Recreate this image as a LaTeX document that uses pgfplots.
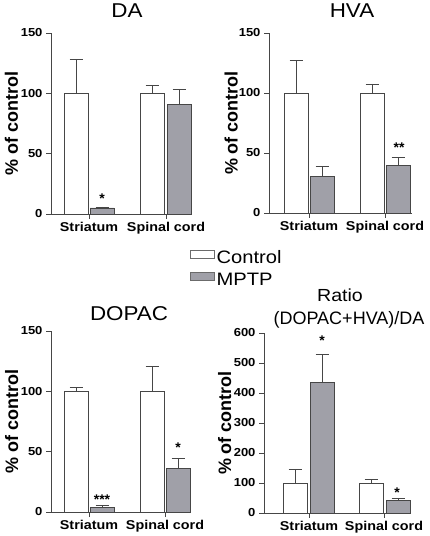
\documentclass[border=0pt]{standalone}
\usepackage{fontspec}
\setmainfont{Liberation Sans}
\newfontfamily\wide[FakeStretch=1.12]{Liberation Sans}
\usepackage{pgfplots}
\usepackage{pgfplotstable}
\pgfplotsset{compat=1.18}
\definecolor{mptp}{RGB}{160,160,168}
\definecolor{ax}{RGB}{70,70,70}

% DA
\pgfplotstableread{
x y e
25 100 28.2
101 100 6.6
}\DActrl
\pgfplotstableread{
x y e
51 5.0 0.8
128 90.9 12.4
}\DAmptp
% HVA
\pgfplotstableread{
x y e
27 100 27.2
103 100 7.5
}\HVActrl
\pgfplotstableread{
x y e
53 30.5 8.1
129 39.4 7.0
}\HVAmptp
% DOPAC
\pgfplotstableread{
x y e
25 100 3.4
101 100 20.5
}\DOPACctrl
\pgfplotstableread{
x y e
51 4.1 1.0
127 36.4 8.0
}\DOPACmptp
% Ratio
\pgfplotstableread{
x y e
31 100 46
107 100 11.6
}\RATctrl
\pgfplotstableread{
x y e
58 434 96
134 42.5 4.5
}\RATmptp

\pgfplotsset{
  panel/.style={
    scale only axis, anchor=south west, clip=false,
    axis x line=bottom, axis y line=left,
    axis line style={ax, line width=0.8pt, -},
    every tick/.style={ax, line width=0.8pt},
    tick align=outside, major tick length=5pt,
    xmin=0, ymin=0,
    /pgf/number format/assume math mode=true,
    scaled y ticks=false,
    yticklabel style={font=\wide\fontsize{11.6}{13}\selectfont\bfseries},
    xticklabel style={font=\wide\fontsize{12.8}{14}\selectfont\bfseries},
    ylabel={\% of control},
    ylabel style={font=\fontsize{18}{20}\selectfont\bfseries, anchor=center},
    xticklabels={Striatum, Spinal cord},
  },
  errs/.style={
    error bars/y dir=plus, error bars/y explicit,
    error bars/error bar style={line width=0.8pt, ax},
    error bars/error mark options={rotate=90, line width=0.8pt, mark size=6.5pt, ax}},
  ctrl/.style={ybar, bar width=24, bar shift=0pt, fill=white, draw=ax, line width=0.8pt, errs},
  mp/.style={ybar, bar width=24, bar shift=0pt, fill=mptp, draw=ax, line width=0.8pt, errs},
}
\newcommand{\sigmark}[2]{\node[font=\fontsize{14}{16}\selectfont\bfseries, anchor=base] at (axis cs:#1) {#2};}

\begin{document}
\begin{tikzpicture}
\useasboundingbox (0,0) rectangle (430pt,536pt);

% titles
\node[font=\wide\fontsize{20}{22}\selectfont, anchor=base] at (127pt,518pt) {DA};
\node[font=\wide\fontsize{20}{22}\selectfont, anchor=base] at (352pt,518pt) {HVA};
\node[font=\wide\fontsize{20}{22}\selectfont, anchor=base] at (129pt,215pt) {DOPAC};
\node[font=\wide\fontsize{17.5}{19}\selectfont, anchor=base] at (340pt,234pt) {Ratio};
\node[font=\fontsize{18}{20}\selectfont, anchor=base] at (349pt,211pt) {(DOPAC+HVA)/DA};

% DA
\begin{axis}[panel, at={(51pt,322pt)}, width=141pt, height=181pt,
  xmax=141, ymax=150, ytick={0,50,100,150}, xtick={38,115},
  ylabel style={at={(axis description cs:-0.28,0.5)}},
  legend style={at={(axis description cs:0.986,-0.19)}, anchor=north west,
    draw=none, fill=none, inner sep=0pt, row sep=3pt,
    font=\wide\fontsize{18}{20}\selectfont,
    nodes={inner sep=1.5pt, text height=13pt, text depth=3.5pt}},
  legend cell align=left]
\addplot[ctrl, forget plot] table[x=x, y=y, y error plus=e] {\DActrl};
\addplot[mp, forget plot] table[x=x, y=y, y error plus=e] {\DAmptp};
\addlegendimage{legend image code/.code={\draw[fill=white, draw=ax!80, line width=0.8pt] (0pt,0pt) rectangle (24pt,8pt);}}
\addlegendentry{Control}
\addlegendimage{legend image code/.code={\draw[fill=mptp, draw=ax!80, line width=0.8pt] (0pt,0pt) rectangle (24pt,8pt);}}
\addlegendentry{MPTP}
\sigmark{51,9}{*}
\end{axis}

% HVA
\begin{axis}[panel, at={(269pt,323pt)}, width=143pt, height=180pt,
  xmax=143, ymax=150, ytick={0,50,100,150}, xtick={40,116},
  ylabel style={at={(axis description cs:-0.265,0.5)}}]
\addplot[ctrl] table[x=x, y=y, y error plus=e] {\HVActrl};
\addplot[mp] table[x=x, y=y, y error plus=e] {\HVAmptp};
\sigmark{130,50}{**}
\end{axis}

% DOPAC
\begin{axis}[panel, at={(51pt,24pt)}, width=140pt, height=181pt,
  xmax=140, ymax=150, ytick={0,50,100,150}, xtick={38,114},
  ylabel style={at={(axis description cs:-0.28,0.5)}}]
\addplot[ctrl] table[x=x, y=y, y error plus=e] {\DOPACctrl};
\addplot[mp] table[x=x, y=y, y error plus=e] {\DOPACmptp};
\sigmark{51,6.6}{***}
\sigmark{127,49}{*}
\end{axis}

% Ratio
\begin{axis}[panel, at={(264pt,23pt)}, width=146pt, height=180pt,
  xmax=146, ymax=600, ytick={0,100,...,600}, xtick={45,120},
  ylabel style={at={(axis description cs:-0.27,0.5)}}]
\addplot[ctrl] table[x=x, y=y, y error plus=e] {\RATctrl};
\addplot[mp] table[x=x, y=y, y error plus=e] {\RATmptp};
\sigmark{58,557}{*}
\sigmark{133,53}{*}
\end{axis}
\end{tikzpicture}
\end{document}
